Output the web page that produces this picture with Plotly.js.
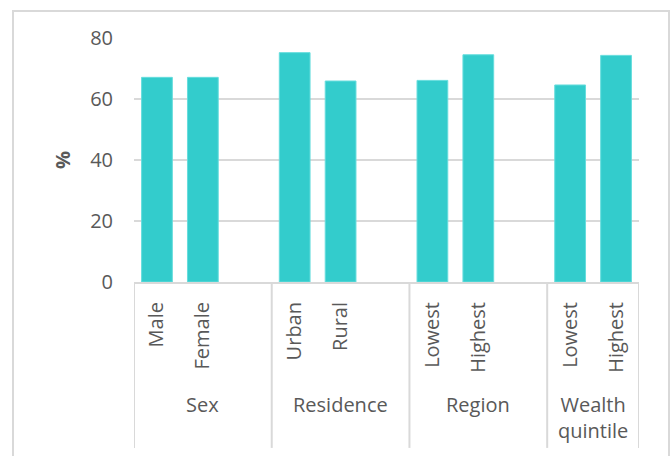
<!DOCTYPE html>
<html>
<head>
<meta charset="utf-8">
<script src="https://cdn.plot.ly/plotly-3.0.1.min.js"></script>
<style>
  html, body { margin: 0; padding: 0; background: #fff; }
  #wrap { position: relative; width: 670px; height: 456px; overflow: hidden; }
  #chart { width: 670px; height: 456px; }
  #frame { position: absolute; left: 12px; top: 10px; width: 654px; height: 470px;
           border: 2px solid #d9d9d9; pointer-events: none; }
</style>
</head>
<body>
<div id="wrap">
  <div id="chart"></div>
  <div id="frame"></div>
</div>
<script>
// ---- data ----
const groupNames = ['Sex', 'Residence', 'Region', 'Wealth<br>quintile'];
const sexLabels = ['Male', 'Female'];
const sexValues = [67.1, 67.1];
const residenceLabels = ['Urban', 'Rural'];
const residenceValues = [75.2, 65.9];
const regionLabels = ['Lowest', 'Highest'];
const regionValues = [66.1, 74.5];
const wealthLabels = ['Lowest', 'Highest'];
const wealthValues = [64.6, 74.3];
const yTicks = [0, 20, 40, 60, 80];

const groupLabels = [sexLabels, residenceLabels, regionLabels, wealthLabels];
const groupValues = [sexValues, residenceValues, regionValues, wealthValues];

// build category slots (with an empty slot between groups)
const xs = [], ys = [], tickvals = [], ticktext = [];
const groupStart = [], groupEnd = [];
groupNames.forEach((g, gi) => {
  groupStart.push(xs.length);
  groupLabels[gi].forEach((lab, i) => {
    const id = gi + '|' + lab;
    xs.push(id); ys.push(groupValues[gi][i]);
    tickvals.push(id); ticktext.push(lab);
  });
  if (gi < groupNames.length - 1) { xs.push('gap' + gi); ys.push(null); }
  groupEnd.push(xs.length - 1);
});
const n = xs.length;

const labelColor = '#595959';
const font = 'Open Sans, sans-serif';

const shapes = [];
const annotations = [];
groupNames.forEach((g, gi) => {
  const a = groupStart[gi] - 0.5, b = groupEnd[gi] + 0.5;
  shapes.push({type: 'line', xref: 'x', yref: 'paper', x0: a, x1: a, y0: 0, y1: -0.68,
               line: {color: '#d9d9d9', width: 2}});
  if (gi === groupNames.length - 1) {
    shapes.push({type: 'line', xref: 'x', yref: 'paper', x0: b, x1: b, y0: 0, y1: -0.68,
                 line: {color: '#d9d9d9', width: 2}});
  }
  annotations.push({xref: 'x', yref: 'paper', x: (a + b) / 2, y: -0.44, yanchor: 'top',
                    xanchor: 'center', text: g, showarrow: false,
                    font: {family: font, size: 20, color: labelColor}});
});

const trace = {
  type: 'bar', x: xs, y: ys,
  marker: {color: '#33CCCC', line: {color: '#66dddd', width: 1}},
  hoverinfo: 'skip'
};

const layout = {
  width: 670, height: 456,
  margin: {l: 134, r: 31, t: 38, b: 174},
  paper_bgcolor: '#ffffff', plot_bgcolor: '#ffffff',
  bargap: 0.33,
  showlegend: false,
  xaxis: {
    type: 'category', categoryorder: 'array', categoryarray: xs,
    range: [-0.5, n - 0.5],
    tickvals: tickvals, ticktext: ticktext, tickangle: -90,
    showgrid: false, showline: true, linecolor: '#d9d9d9', linewidth: 2,
    ticks: '', ticklabelstandoff: 10,
    tickfont: {family: font, size: 20, color: labelColor}
  },
  yaxis: {
    range: [0, 80], tickvals: yTicks, showgrid: true, gridcolor: '#d9d9d9', gridwidth: 2,
    zeroline: false, showline: false, ticks: '', ticklabelstandoff: 20,
    tickfont: {family: font, size: 20, color: labelColor},
    title: {text: '%', standoff: 14, font: {family: font, size: 20, color: labelColor, weight: 'bold'}}
  },
  shapes: shapes,
  annotations: annotations
};

Plotly.newPlot('chart', [trace], layout, {displayModeBar: false, staticPlot: true});
</script>
</body>
</html>
